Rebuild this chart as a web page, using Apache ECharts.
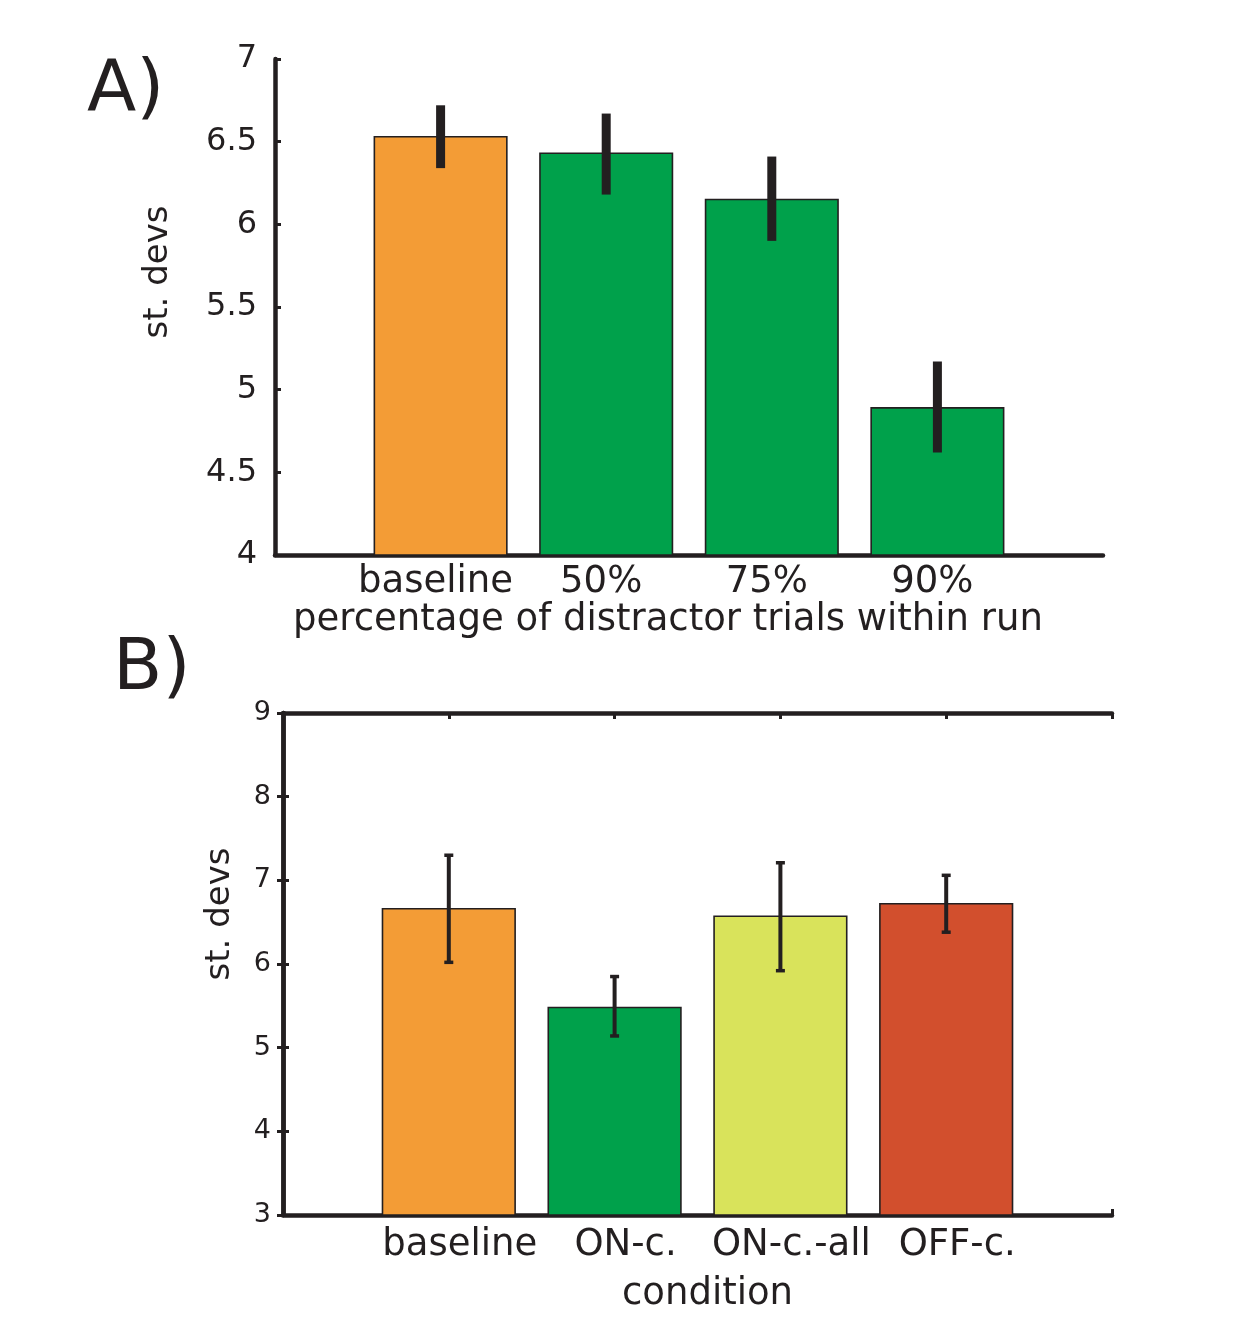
<!DOCTYPE html>
<html>
<head>
<meta charset="utf-8">
<script src="https://cdn.jsdelivr.net/npm/echarts@6/dist/echarts.min.js"></script>
<style>
html,body{margin:0;padding:0;background:#fff;}
#chart{width:1247px;height:1330px;}
</style>
</head>
<body>
<div id="chart"></div>
<script>
// ---- data ----
const catsA = ['baseline', '50%', '75%', '90%'];
const meanA = [6.53, 6.43, 6.15, 4.89];
const lowA  = [6.34, 6.18, 5.90, 4.62];
const highA = [6.72, 6.67, 6.41, 5.17];
const ticksA = [4, 4.5, 5, 5.5, 6, 6.5, 7];

const catsB = ['baseline', 'ON-c.', 'ON-c.-all', 'OFF-c.'];
const meanB = [6.66, 5.48, 6.57, 6.72];
const lowB  = [6.02, 5.14, 5.92, 6.38];
const highB = [7.30, 5.85, 7.21, 7.06];
const ticksB = [3, 4, 5, 6, 7, 8, 9];

const colorsA = ['#F39C36', '#00A14B', '#00A14B', '#00A14B'];
const colorsB = ['#F39C36', '#00A14B', '#D9E35B', '#D24F2D'];

const FONT = '"DejaVu Sans", sans-serif';
const INK = '#231F20';

function barSeries(xi, yi, means, colors, yMin) {
  return {
    type: 'custom', xAxisIndex: xi, yAxisIndex: yi, z: 3,
    data: means.map((m, i) => [i + 1, m]),
    renderItem: (params, api) => {
      const x = api.value(0), y = api.value(1);
      const p0 = api.coord([x - 0.4, yMin]);
      const p1 = api.coord([x + 0.4, y]);
      return {
        type: 'rect',
        shape: {x: p0[0], y: p1[1], width: p1[0] - p0[0], height: p0[1] - p1[1]},
        style: {fill: colors[params.dataIndex], stroke: INK, lineWidth: 1.6}
      };
    }
  };
}

function errSeries(xi, yi, lows, highs, lw, cap) {
  return {
    type: 'custom', xAxisIndex: xi, yAxisIndex: yi, z: 5,
    data: lows.map((l, i) => [i + 1, l, highs[i]]),
    renderItem: (params, api) => {
      const x = api.value(0);
      const pl = api.coord([x, api.value(1)]);
      const ph = api.coord([x, api.value(2)]);
      const children = [{
        type: 'line',
        shape: {x1: pl[0], y1: pl[1], x2: ph[0], y2: ph[1]},
        style: {stroke: INK, lineWidth: lw}
      }];
      if (cap > 0) {
        children.push({type: 'line', shape: {x1: pl[0] - cap / 2, y1: pl[1], x2: pl[0] + cap / 2, y2: pl[1]}, style: {stroke: INK, lineWidth: 3.5}});
        children.push({type: 'line', shape: {x1: ph[0] - cap / 2, y1: ph[1], x2: ph[0] + cap / 2, y2: ph[1]}, style: {stroke: INK, lineWidth: 3.5}});
      }
      return {type: 'group', children};
    }
  };
}

const axisLine = {show: true, lineStyle: {color: INK, width: 4.5}};
const tickIn = {show: true, inside: true, length: 6, lineStyle: {color: INK, width: 3}};

const option = {
  backgroundColor: '#fff',
  animation: false,
  title: [
    {text: 'A)', left: 82, top: 50, textStyle: {fontFamily: FONT, fontSize: 72, fontWeight: 'normal', color: INK}},
    {text: 'B)', left: 108, top: 629, textStyle: {fontFamily: FONT, fontSize: 72, fontWeight: 'normal', color: INK}}
  ],
  grid: [
    {left: 275, right: 144, top: 59, bottom: 775, containLabel: false},
    {left: 283, right: 135, top: 713, bottom: 115, containLabel: false}
  ],
  xAxis: [
    {
      gridIndex: 0, type: 'value', min: 0, max: 5, interval: 1,
      axisLine: axisLine, axisTick: {show: false}, splitLine: {show: false},
      axisLabel: {
        margin: 9, fontFamily: FONT, fontSize: 37, color: INK, padding: [0, 10, 0, 0],
        formatter: v => (v >= 1 && v <= 4) ? catsA[v - 1] : ''
      },
      name: 'percentage of distractor trials within run',
      nameLocation: 'middle', nameGap: 42,
      nameTextStyle: {fontFamily: FONT, fontSize: 37, color: INK, padding: [0, 42, 0, 0]}
    },
    {
      gridIndex: 1, type: 'value', min: 0, max: 5, interval: 1,
      axisLine: axisLine, axisTick: tickIn, splitLine: {show: false},
      axisLabel: {
        margin: 12, fontFamily: FONT, fontSize: 37, color: INK, padding: [0, 0, 0, 22],
        formatter: v => (v >= 1 && v <= 4) ? catsB[v - 1] : ''
      },
      name: 'condition',
      nameLocation: 'middle', nameGap: 61,
      nameTextStyle: {fontFamily: FONT, fontSize: 37, color: INK, padding: [0, 0, 0, 20]}
    },
    {
      gridIndex: 1, type: 'value', min: 0, max: 5, interval: 1, position: 'top',
      axisLine: axisLine, axisTick: tickIn, splitLine: {show: false},
      axisLabel: {show: false}
    }
  ],
  yAxis: [
    {
      gridIndex: 0, type: 'value', min: ticksA[0], max: ticksA[ticksA.length - 1], interval: 0.5,
      axisLine: axisLine, axisTick: tickIn, splitLine: {show: false},
      axisLabel: {margin: 18, fontFamily: FONT, fontSize: 32, color: INK},
      name: 'st. devs', nameLocation: 'middle', nameGap: 100, nameRotate: 90,
      nameTextStyle: {fontFamily: FONT, fontSize: 34, color: INK, padding: [0, 0, 0, 70]}
    },
    {
      gridIndex: 1, type: 'value', min: ticksB[0], max: ticksB[ticksB.length - 1], interval: 1,
      axisLine: axisLine, axisTick: tickIn, splitLine: {show: false},
      axisLabel: {margin: 12, fontFamily: FONT, fontSize: 27, color: INK},
      name: 'st. devs', nameLocation: 'middle', nameGap: 46, nameRotate: 90,
      nameTextStyle: {fontFamily: FONT, fontSize: 34, color: INK, padding: [0, 0, 0, 100]}
    },
    {
      gridIndex: 1, type: 'value', min: ticksB[0], max: ticksB[ticksB.length - 1], interval: 1, position: 'right',
      axisLine: axisLine, axisTick: tickIn, splitLine: {show: false},
      axisLabel: {show: false}
    }
  ],
  series: [
    barSeries(0, 0, meanA, colorsA, ticksA[0]),
    errSeries(0, 0, lowA, highA, 9, 0),
    barSeries(1, 1, meanB, colorsB, ticksB[0]),
    errSeries(1, 1, lowB, highB, 4, 9)
  ]
};

const chart = echarts.init(document.getElementById('chart'), null, {renderer: 'canvas'});
chart.setOption(option);
</script>
</body>
</html>
